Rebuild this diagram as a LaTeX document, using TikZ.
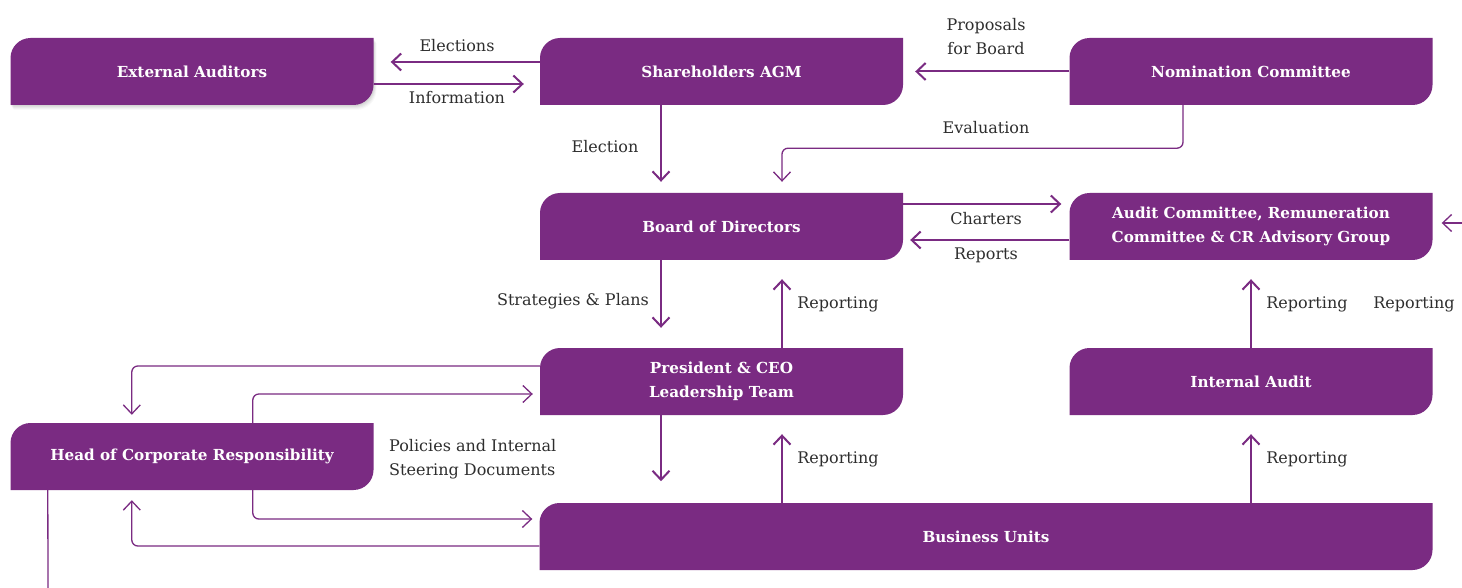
\documentclass[tikz,border=0pt]{standalone}
\usepackage{fontspec}
\setmainfont{DejaVu Serif}
\usetikzlibrary{arrows.meta,calc}
\definecolor{pur}{HTML}{7A2B82}
\definecolor{txt}{HTML}{2E2E2E}
\tikzset{
  boxtext/.style={text=white,font=\bfseries\fontsize{15.2}{24}\selectfont,align=center,
    minimum height=67pt,inner sep=0pt,minimum width=363pt},
  lab/.style={text=txt,font=\fontsize{16}{24}\selectfont,align=center,inner sep=0pt},
  arr/.style={draw=pur,line width=2pt,-{Straight Barb[length=9pt,width=17pt]}},
  arrthin/.style={draw=pur,line width=1.3pt,-{Straight Barb[length=9pt,width=17pt]},rounded corners=6pt},
  plain/.style={draw=pur,line width=1.3pt},
}
% [fill options] cx, cy, width
\newcommand\pshape[4][]{%
  \fill[#1] ({#2-#4/2},{#3+33.5}) -- ({#2-#4/2},{#3-13.5})
    .. controls ({#2-#4/2},{#3-24.5}) and ({#2-#4/2+9},{#3-33.5}) .. ({#2-#4/2+20},{#3-33.5})
    -- ({#2+#4/2},{#3-33.5}) -- ({#2+#4/2},{#3+13.5})
    .. controls ({#2+#4/2},{#3+24.5}) and ({#2+#4/2-9},{#3+33.5}) .. ({#2+#4/2-20},{#3+33.5})
    -- cycle;}
% name, cx, cy, width, text
\newcommand\pbox[5]{%
  \pshape[pur]{#2}{#3}{#4}%
  \node[boxtext,minimum width=#4pt] (#1) at (#2,#3) {#5};
}
\begin{document}
\begin{tikzpicture}[x=1pt,y=-1pt]
\useasboundingbox[fill=white] (0,0) rectangle (1462,588);

% soft shadow of External Auditors
\foreach \d/\o in {5/0.025,4/0.03,3/0.035,2/0.04,1/0.04}{
  \pshape[black,opacity=\o]{192+0.6*\d}{71.5+\d}{363}
}
\pbox{ext}{192}{71.5}{363}{External Auditors}
\pbox{sh}{721.5}{71.5}{363}{Shareholders AGM}
\pbox{nom}{1251}{71.5}{363}{Nomination Committee}
\pbox{bod}{721.5}{226.5}{363}{Board of Directors}
\pbox{aud}{1251}{226.5}{363}{Audit Committee, Remuneration\\Committee \& CR Advisory Group}
\pbox{ceo}{721.5}{381.5}{363}{President \& CEO\\Leadership Team}
\pbox{ia}{1251}{381.5}{363}{Internal Audit}
\pbox{hcr}{192}{456.5}{363}{Head of Corporate Responsibility}
\pbox{bu}{986}{536.5}{893}{Business Units}

\coordinate (redge) at (1462,223);
\coordinate (bot) at (48,588);
\coordinate (ceoL) at ($(ceo.south)+(-60.5,0)$);
\coordinate (ceoR) at ($(ceo.south)+(60.5,0)$);

% labels
\node[lab] (lElections) at (457,46) {Elections};
\node[lab] (lInformation) at (457,98) {Information};
\node[lab] (lProposals) at (986,37) {Proposals\\for Board};
\node[lab] (lEvaluation) at (986,128) {Evaluation};
\node[lab] (lElection) at (605,147) {Election};
\node[lab] (lCharters) at (986,219) {Charters};
\node[lab] (lReports) at (986,255) {Reports};
\node[lab] (lStrategies) at (573,301) {Strategies \& Plans};
\node[lab] (lRep1) at (838,304) {Reporting};
\node[lab] (lRep2) at (1307,304) {Reporting};
\node[lab] (lRep3) at (1414,304) {Reporting};
\node[lab,align=left,anchor=west] (lPolicies) at (389,459) {Policies and Internal\\Steering Documents};
\node[lab] (lRep4) at (838,459) {Reporting};
\node[lab] (lRep5) at (1307,459) {Reporting};

% connectors
\draw[arr] ($(sh.west)+(0,-9.5)$) -- ($(ext.east)+(17,-9.5)$);
\draw[arr] ($(ext.east)+(0,12.5)$) -- ($(sh.west)+(-16,12.5)$);
\draw[arr] (nom.west) -- ($(sh.east)+(12,0)$);
\draw[arrthin] ($(nom.south)+(-68,0)$) -- ++(0,43) -| ($(bod.north)+(60.5,-11)$);
\draw[arr] ($(sh.south)+(-60.5,0)$) -- ($(bod.north)+(-60.5,-11)$);
\draw[arr] ($(bod.east)+(0,-22.5)$) -- ($(aud.west)+(-8,-22.5)$);
\draw[arr] ($(aud.west)+(0,13.5)$) -- ($(bod.east)+(7,13.5)$);
\draw[arrthin] (redge) -- ($(aud.east)+(9,-3.5)$);
\draw[arr] ($(bod.south)+(-60.5,0)$) -- ($(ceo.north)+(-60.5,-20)$);
\draw[arr] ($(ceo.north)+(60.5,0)$) -- ($(bod.south)+(60.5,19)$);
\draw[arr] (ia.north) -- ($(aud.south)+(0,19)$);
\draw[arr] (ceoL) -- ($(ceoL)+(0,66)$);
\draw[arr] (ceoR |- bu.north) -- ($(ceoR)+(0,19)$);
\draw[arr] (ia.south |- bu.north) -- ($(ia.south)+(0,19)$);
\draw[arrthin] ($(ceo.west)+(0,-15.5)$) -| ($(hcr.north west)+(121.5,-8)$);
\draw[arrthin] ($(hcr.north west)+(242.5,0)$) |- ($(ceo.west)+(-7,12.5)$);
\draw[arrthin] ($(hcr.south west)+(242.5,0)$) |- ($(bu.west)+(-7,-17.5)$);
\draw[arrthin] ($(bu.west)+(0,9.5)$) -| ($(hcr.south west)+(121.5,10)$);
\draw[plain] ($(hcr.south west)+(37.5,0)$) -- (bot);
\end{tikzpicture}
\end{document}
